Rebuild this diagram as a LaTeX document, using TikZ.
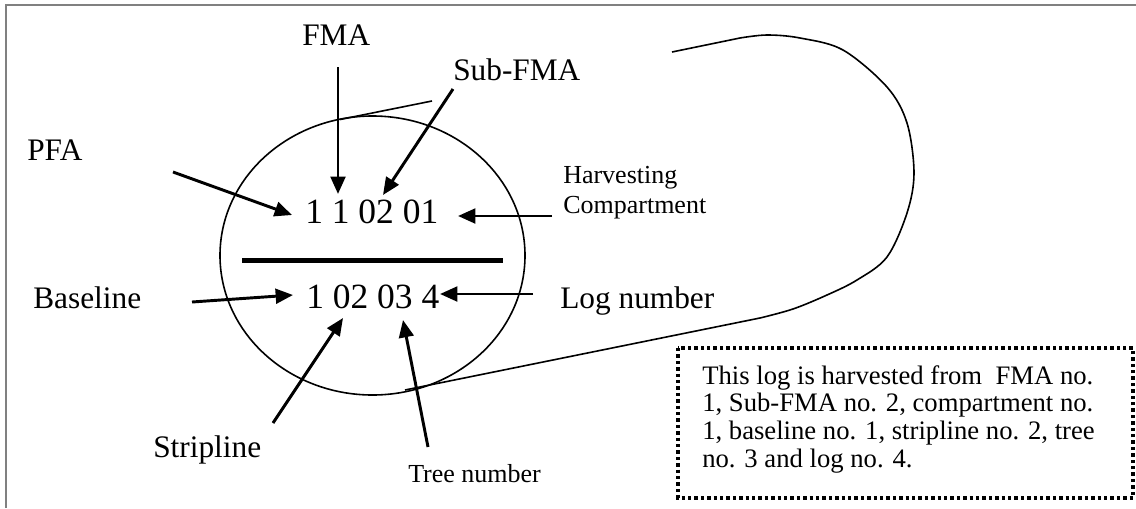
\documentclass[tikz,border=0pt]{standalone}
\usepackage{fontspec}
\setmainfont{Liberation Serif}
\usetikzlibrary{arrows.meta}
\tikzset{
  lbl/.style={font=\fontsize{23.5}{28}\selectfont, inner sep=0pt, anchor=base west},
  small/.style={font=\fontsize{19.5}{23}\selectfont, inner sep=0pt, anchor=base west},
  num/.style={font=\fontsize{26.6}{32}\selectfont, inner sep=0pt, anchor=base west},
  boxtxt/.style={font=\fontsize{20}{24}\selectfont, inner sep=0pt, anchor=base west},
  arr/.style={line width=2.2pt, -{Triangle[length=13pt,width=11pt]}},
  thin/.style={line width=1.2pt},
  frame/.style={line width=1.6pt, draw=black!50},
}
\begin{document}
\begin{tikzpicture}[x=0.75pt,y=-0.75pt]
\useasboundingbox (0,0) rectangle (1136,508);
% frame
\draw[frame] (6,508) -- (6,5) -- (1136,5);
% log end ellipse and log outline
\draw[thin] (372.5,255.5) ellipse [x radius=152.5, y radius=139.5];
\draw[thin] (340,119.5) -- (432,101);
\draw[thin] (672,52) -- (740,38)
  plot[smooth, tension=0.55] coordinates {(740,38) (767,35) (800,38) (843,50) (887,87) (907,123) (914,173) (907,213) (887,257) (857,280) (827,295) (793,309) (760,318)}
  -- (405,390);
% divider
\draw[line width=3.75pt] (242,260) -- (503,260);
% texts
\node[num] (top) at (305,223) {1 1 02 01};
\node[num] (bot) at (306,308) {1 02 03 4};
\node[lbl] (fma) at (302,45) {FMA};
\node[lbl] (sub) at (453,80) {Sub-FMA};
\node[lbl] (pfa) at (27,160) {PFA};
\node[lbl] (base) at (33,308) {Baseline};
\node[lbl] (strip) at (153,457) {Stripline};
\node[lbl] (log) at (560,308) {Log number};
\node[small] (harv) at (563,183) {Harvesting};
\node[small] (comp) at (563,213) {Compartment};
\node[small] (tree) at (408,482) {Tree number};
% arrow end points
\coordinate (fmaS) at (338,67);   \coordinate (fmaE) at (338,194);
\coordinate (subS) at (453,89);   \coordinate (subE) at (383,195);
\coordinate (pfaS) at (173,172);  \coordinate (pfaE) at (292,215);
\coordinate (harS) at (552,216);  \coordinate (harE) at (458,216);
\coordinate (basS) at (192,302);  \coordinate (basE) at (293,295);
\coordinate (logS) at (533,294);  \coordinate (logE) at (440,294);
\coordinate (strS) at (273,423);  \coordinate (strE) at (343,318);
\coordinate (treS) at (428,447);  \coordinate (treE) at (403,320);
\draw[arr] (fmaS) -- (fmaE);
\draw[arr] (subS) -- (subE);
\draw[arr] (pfaS) -- (pfaE);
\draw[arr] (harS) -- (harE);
\draw[arr] (basS) -- (basE);
\draw[arr] (logS) -- (logE);
\draw[arr] (strS) -- (strE);
\draw[arr] (treS) -- (treE);
% note box
\draw[line width=2.5pt, dash pattern=on 2.5pt off 2.3pt] (678,348) rectangle (1133,498);
\node[boxtxt] (l1) at (702,384) {This log is harvested from\ \ FMA no.};
\node[boxtxt] (l2) at (702,411) {1, Sub-FMA no. 2, compartment no.};
\node[boxtxt] (l3) at (702,439) {1, baseline no. 1, stripline no. 2, tree};
\node[boxtxt] (l4) at (702,467) {no. 3 and log no. 4.};
\end{tikzpicture}
\end{document}
